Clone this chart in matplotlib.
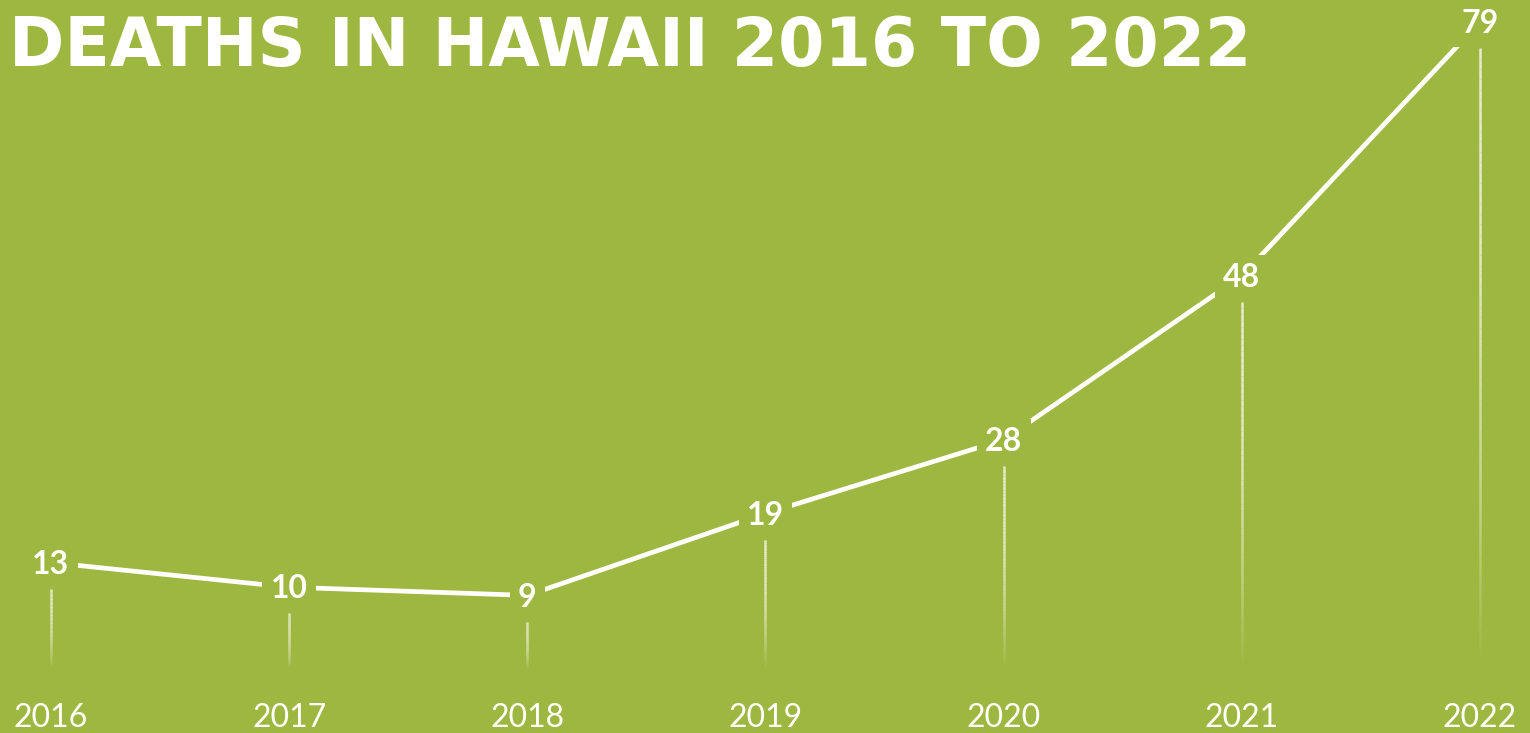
import matplotlib

matplotlib.use("Agg")
import matplotlib.pyplot as plt
import numpy as np
from matplotlib.collections import LineCollection

years = [2016, 2017, 2018, 2019, 2020, 2021, 2022]
deaths = [13, 10, 9, 19, 28, 48, 79]
title = "DEATHS IN HAWAII 2016 TO 2022"

BG = "#9eb740"

fig = plt.figure(figsize=(15.3, 7.33), dpi=100, facecolor=BG)
ax = fig.add_axes([0, 0, 1, 1])
ax.set_facecolor(BG)
ax.set_xlim(2015.786, 2022.21)
ax.set_ylim(-7.8, 81.7)
for s in ax.spines.values():
    s.set_visible(False)
ax.set_yticks([])
ax.set_xticks([])

# faded drop lines from under each label down to zero
n = 60
for x, y in zip(years, deaths):
    top = y - 3.2
    ys = np.linspace(top, 0, n + 1)
    segs = [[(x, ys[i]), (x, ys[i + 1])] for i in range(n)]
    t = np.linspace(0, 1, n)
    alpha = 0.75 * (1 - t ** 2.2)
    cols = [(1, 1, 1, a) for a in alpha]
    ax.add_collection(LineCollection(segs, colors=cols, linewidths=1.8, capstyle="butt"))

ax.plot(years, deaths, color="white", lw=3.4, solid_capstyle="butt", zorder=3)

for x, y in zip(years, deaths):
    ax.text(x, y - 0.2, str(y), ha="center", va="center", color="white",
            fontsize=23, fontweight="bold", style="normal", family="Lato", zorder=5,
            bbox=dict(boxstyle="square,pad=0.26", fc=BG, ec="none"))

for x in years:
    ax.text(x, -6.0, str(x), ha="center", va="center", color="white",
            fontsize=23, family="Lato", zorder=5)

fig.text(0.006, 0.936, title, ha="left", va="center", color="white",
         fontsize=48, fontweight="heavy", family="DejaVu Sans")

fig.savefig("out.png", facecolor=BG)
